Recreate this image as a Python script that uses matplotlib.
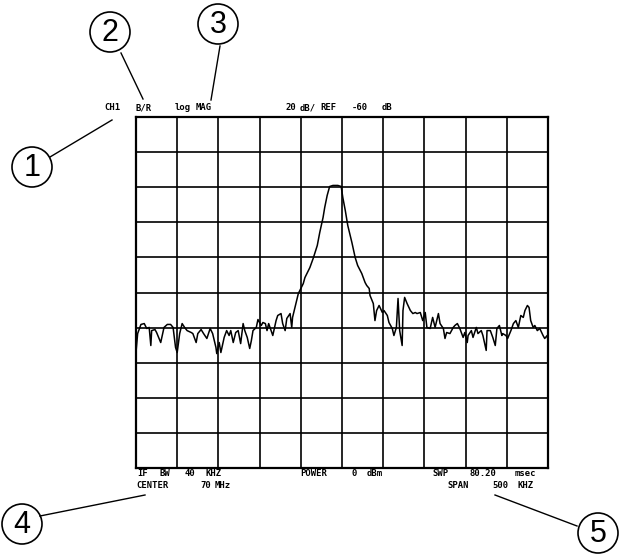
import matplotlib
matplotlib.use("Agg")
import matplotlib.pyplot as plt
from matplotlib.patches import Circle

# frequency offset from center (kHz) and level (dB)
freq_khz = [-250, -248, -244, -240, -237, -234, -232, -231, -227, -225,
            -220, -216, -212, -208, -205, -202, -200, -197, -194, -191,
            -188, -183, -181, -177, -175, -171, -168, -164, -160, -157,
            -153, -152, -149, -147, -143, -140, -137, -135, -132, -129,
            -126, -123, -120, -118, -115, -112, -110, -108, -104, -102,
            -98, -96, -93, -91, -89, -86, -84, -80, -78, -74,
            -72, -69, -67, -63, -61, -60, -56, -53, -50, -47,
            -45, -39, -35, -30, -27, -23, -21, -18, -15, -11,
            -5, -1, 1, 4, 7, 12, 16, 19, 24, 28,
            30, 33, 34, 38, 40, 42, 45, 49, 51, 55,
            57, 61, 63, 66, 68, 70, 73, 74, 76, 79,
            83, 86, 89, 91, 95, 98, 101, 103, 107, 110,
            113, 117, 119, 123, 125, 127, 131, 135, 137, 140,
            143, 147, 149, 152, 153, 157, 159, 163, 165, 169,
            171, 175, 176, 180, 183, 186, 188, 191, 194, 195,
            199, 201, 205, 208, 211, 214, 217, 220, 222, 225,
            227, 229, 232, 234, 237, 240, 244, 246, 249, 250]
level_db = [-94.0, -83.4, -78.2, -77.7, -80.5, -79.9, -90.2, -81.7, -81.1, -82.8,
            -88.5, -79.9, -78.2, -78.2, -79.9, -91.3, -94.2, -83.4, -77.7, -79.9,
            -81.7, -82.8, -83.4, -88.5, -83.4, -81.1, -83.4, -86.2, -80.5, -83.4,
            -91.3, -94.8, -88.5, -94.2, -85.6, -81.7, -84.5, -81.7, -88.5, -82.8,
            -81.7, -89.1, -77.7, -81.7, -85.6, -91.9, -87.4, -81.7, -79.9, -75.4,
            -78.8, -77.1, -77.7, -81.7, -77.7, -81.7, -84.5, -76.0, -73.1, -72.0,
            -77.7, -81.7, -74.8, -72.0, -79.9, -74.2, -66.3, -60.6, -57.7, -54.9,
            -51.5, -45.8, -40.6, -33.2, -25.8, -17.3, -11.6, -4.7, 0.4, 1.0,
            1.0, 0.4, -5.9, -13.3, -21.8, -31.5, -40.1, -44.6, -49.2, -54.3,
            -56.0, -57.7, -61.7, -66.3, -76.0, -70.3, -67.4, -71.4, -70.3, -73.1,
            -77.1, -80.5, -84.5, -79.9, -63.4, -81.7, -90.2, -70.3, -62.8, -66.3,
            -70.3, -72.0, -71.4, -72.0, -71.4, -76.0, -71.4, -79.9, -80.5, -74.2,
            -79.9, -72.0, -77.7, -80.5, -86.2, -82.8, -83.4, -79.9, -78.8, -77.7,
            -80.5, -85.6, -82.8, -88.5, -84.5, -81.7, -85.6, -79.9, -83.4, -81.7,
            -84.5, -93.0, -81.7, -81.7, -85.6, -90.2, -80.5, -78.8, -84.5, -83.4,
            -84.5, -86.2, -81.7, -77.7, -76.0, -79.9, -73.1, -74.2, -70.3, -67.4,
            -68.5, -76.0, -79.9, -78.8, -81.7, -80.5, -84.5, -86.2, -84.5, -87.4]

span_khz = 500
ref_db = -60
db_per_div = 20

# screen annotations, word by word: (text, x pixel)
header = [("CH1", 104), ("B/R", 136), ("log", 175), ("MAG", 196), ("20", 285),
          ("dB/", 300), ("REF", 320), ("-60", 352), ("dB", 382)]
footer1 = [("IF", 137), ("BW", 160), ("40", 185), ("KHZ", 205), ("POWER", 300),
           ("0", 352), ("dBm", 367), ("SWP", 432), ("80.20", 469), ("msec", 515)]
footer2 = [("CENTER", 136), ("70", 200), ("MHz", 215), ("SPAN", 447), ("500", 492), ("KHZ", 517)]

# callouts: label, circle centre, line start, line end (pixels)
callouts = [("1", (32, 167), (50, 157), (112, 120)),
            ("2", (110, 32), (121, 53), (143, 99)),
            ("3", (218, 24), (220, 46), (211, 100)),
            ("4", (22, 524), (40, 516), (145, 495)),
            ("5", (598, 533), (577, 526), (495, 495))]

W, H = 627, 555
fig = plt.figure(figsize=(W / 100, H / 100), dpi=100)
fig.patch.set_facecolor("white")

ax = fig.add_axes([136 / W, 1 - 468 / H, 412 / W, 351 / H])
ax.plot(freq_khz, level_db, color="black", lw=1.1)
ax.set_xlim(-span_khz / 2, span_khz / 2)
ax.set_ylim(ref_db - 5 * db_per_div, ref_db + 5 * db_per_div)
ax.set_xticks([-span_khz / 2 + i * span_khz / 10 for i in range(11)])
ax.set_yticks([ref_db + (i - 5) * db_per_div for i in range(11)])
ax.grid(True, color="black", lw=1.2)
ax.tick_params(length=0, labelbottom=False, labelleft=False)
for s in ax.spines.values():
    s.set_linewidth(1.6)

# overlay in pixel coordinates for annotation text
ov = fig.add_axes([0, 0, 1, 1], facecolor="none")
ov.set_xlim(0, W)
ov.set_ylim(H, 0)
ov.axis("off")

txt = dict(family="DejaVu Sans Mono", fontsize=6.4, fontweight="bold", va="center", ha="left")
for s, x in header:
    ov.text(x, 108, s, **txt)
for s, x in footer1:
    ov.text(x, 474, s, **txt)
for s, x in footer2:
    ov.text(x, 485, s, **txt)

for lab, (cx, cy), p0, p1 in callouts:
    ov.add_patch(Circle((cx, cy), 20, fill=False, lw=1.2, ec="black"))
    ov.text(cx, cy + 1, lab, family="Liberation Sans", fontsize=22, ha="center", va="center")
    ov.plot([p0[0], p1[0]], [p0[1], p1[1]], color="black", lw=1.0)

fig.savefig("out.png", dpi=100)
